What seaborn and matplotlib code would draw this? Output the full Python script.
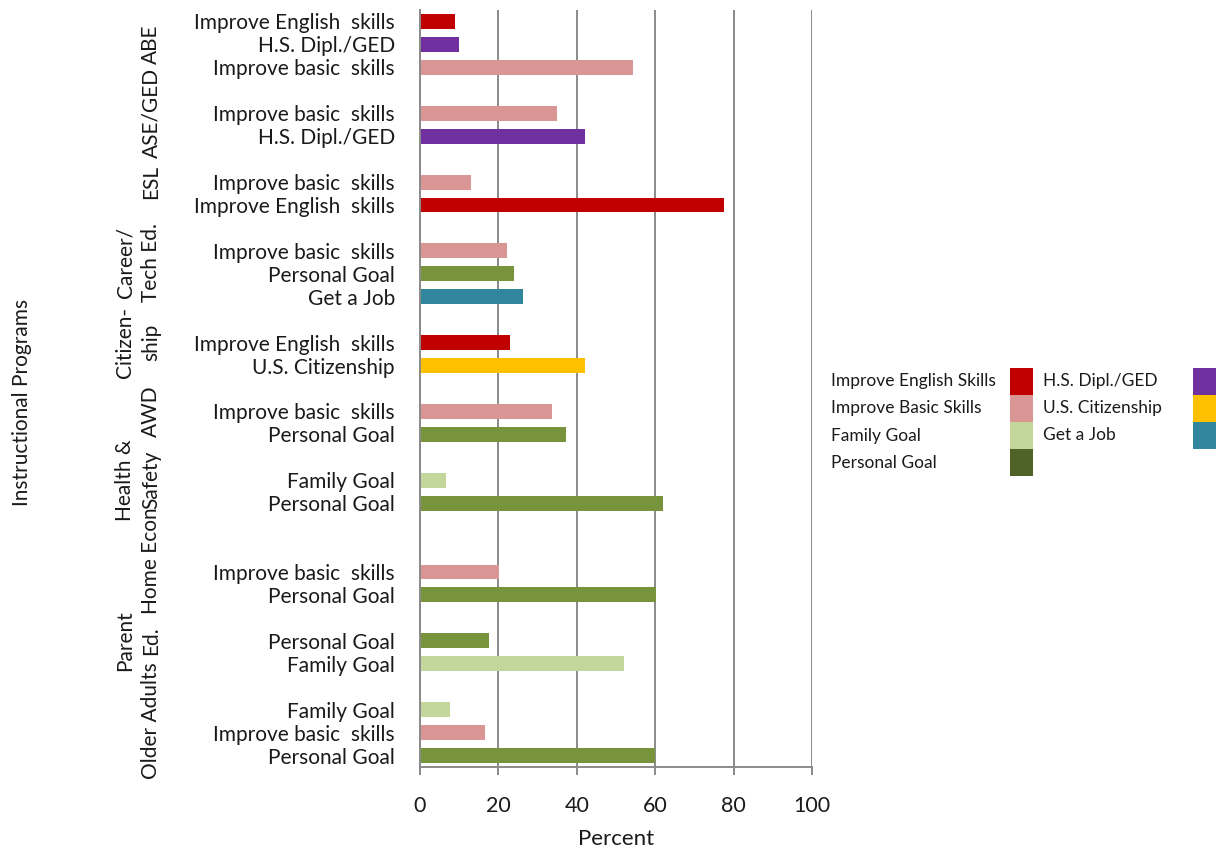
import matplotlib
matplotlib.use("Agg")
import matplotlib.pyplot as plt
import matplotlib.transforms as mtransforms
from matplotlib.patches import Rectangle
import seaborn as sns
import pandas as pd

# ---- data -------------------------------------------------------------
programs = ["ABE", "ASE/GED", "ESL", "Career/\nTech Ed.", "Citizen-\nship",
            "AWD", "Health &\nSafety", "Home Econ", "Parent\nEd.", "Older Adults"]

# empty rows placed ahead of each program block
gap_before = [0, 1, 1, 1, 1, 1, 1, 2, 1, 1]

bar_labels = [
    ["Improve English  skills", "H.S. Dipl./GED", "Improve basic  skills"],
    ["Improve basic  skills", "H.S. Dipl./GED"],
    ["Improve basic  skills", "Improve English  skills"],
    ["Improve basic  skills", "Personal Goal", "Get a Job"],
    ["Improve English  skills", "U.S. Citizenship"],
    ["Improve basic  skills", "Personal Goal"],
    ["Family Goal", "Personal Goal"],
    ["Improve basic  skills", "Personal Goal"],
    ["Personal Goal", "Family Goal"],
    ["Family Goal", "Improve basic  skills", "Personal Goal"],
]

bar_goals = [
    ["english", "hs", "basic"],
    ["basic", "hs"],
    ["basic", "english"],
    ["basic", "personal", "job"],
    ["english", "citizen"],
    ["basic", "personal"],
    ["family", "personal"],
    ["basic", "personal"],
    ["personal", "family"],
    ["family", "basic", "personal"],
]

bar_values = [
    [9.0, 10.0, 54.4],
    [35.0, 42.2],
    [13.0, 77.6],
    [22.1, 24.0, 26.2],
    [23.0, 42.2],
    [33.6, 37.2],
    [6.7, 62.0],
    [20.2, 60.2],
    [17.6, 52.0],
    [7.6, 16.7, 60.0],
]

legend_keys = ["english", "basic", "family", "personal", "hs", "citizen", "job"]
legend_names = ["Improve English Skills", "Improve Basic Skills", "Family Goal",
                "Personal Goal", "H.S. Dipl./GED", "U.S. Citizenship", "Get a Job"]

bar_colors = {"english": "#C00000", "basic": "#D99694", "family": "#C3D69B",
              "personal": "#77933C", "hs": "#7030A0", "citizen": "#FFC000",
              "job": "#31859C"}
legend_colors = dict(bar_colors, personal="#4F6228")

x_ticks = [0, 20, 40, 60, 80, 100]

# ---- build the row layout ---------------------------------------------
slot_ids, slot_text = [], []
rows = []
group_span = []
for g, name in enumerate(programs):
    start = len(slot_ids)
    for k in range(gap_before[g]):
        slot_ids.append(f"gap{g}_{k}")
        slot_text.append("")
    for lab, goal, val in zip(bar_labels[g], bar_goals[g], bar_values[g]):
        sid = f"r{len(slot_ids)}"
        slot_ids.append(sid)
        slot_text.append(lab)
        rows.append({"slot": sid, "value": val, "goal": goal})
    group_span.append((start, len(slot_ids) - 1))

df = pd.DataFrame(rows)

# ---- figure -----------------------------------------------------------
sns.set_theme(style="white")
FONT = ["Lato", "DejaVu Sans"]
plt.rcParams["font.family"] = FONT
TXT = "#1a1a1a"
GRID = "#8a8a8a"

W, H = 1225, 856
fig = plt.figure(figsize=(W / 100, H / 100), dpi=100)
ax = fig.add_axes([420 / W, 1 - 767 / H, 392 / W, 757 / H])

sns.barplot(data=df, x="value", y="slot", hue="goal", order=slot_ids,
            palette=bar_colors, dodge=False, width=0.65, saturation=1,
            errorbar=None, legend=False, orient="h", linewidth=0, ax=ax)

ax.set_xlim(0, 100)
ax.set_ylim(len(slot_ids) - 0.5, -0.5)
ax.set_xticks(x_ticks)
ax.set_xticklabels([str(t) for t in x_ticks])
ax.set_yticks(range(len(slot_ids)))
ax.set_yticklabels(slot_text)
ax.set_axisbelow(True)
ax.grid(axis="x", color=GRID, linewidth=1.4)
ax.grid(axis="y", visible=False)
for side in ("top", "right"):
    ax.spines[side].set_visible(False)
for side in ("left", "bottom"):
    ax.spines[side].set_color(GRID)
    ax.spines[side].set_linewidth(1.4)
ax.tick_params(axis="y", length=0, pad=18, labelsize=15, labelcolor=TXT)
ax.tick_params(axis="x", bottom=True, direction="out", length=6, width=1.4,
               color=GRID, pad=15, labelsize=15.5, labelcolor=TXT)
ax.set_xlabel("Percent", fontsize=16, color=TXT, labelpad=9)
ax.set_ylabel("")

# program names, rotated and centred on their blocks
trans = mtransforms.blended_transform_factory(fig.transFigure, ax.transData)
for name, (s, e) in zip(programs, group_span):
    ax.text(161 / W, (s + e) / 2, name, transform=trans, rotation=90,
            ha="right", va="center", multialignment="center",
            fontsize=15, color=TXT, linespacing=1.35)

fig.text(22 / W, 1 - 402 / H, "Instructional Programs", rotation=90,
         ha="center", va="center", fontsize=15, color=TXT)

# legend: two columns, text followed by a swatch
col_text_x = [831, 1043]
col_box_x = [1010, 1193]
box_w, box_h = 23, 27
top = 368
for i, (key, name) in enumerate(zip(legend_keys, legend_names)):
    c = 0 if i < 4 else 1
    r = i if i < 4 else i - 4
    y0 = top + r * box_h
    fig.add_artist(Rectangle((col_box_x[c] / W, 1 - (y0 + box_h) / H),
                             box_w / W, box_h / H, transform=fig.transFigure,
                             facecolor=legend_colors[key], edgecolor="none"))
    fig.text(col_text_x[c] / W, 1 - (y0 + box_h / 2) / H, name,
             ha="left", va="center", fontsize=12.5, color=TXT)

fig.savefig("out.png", dpi=100, facecolor="white")
